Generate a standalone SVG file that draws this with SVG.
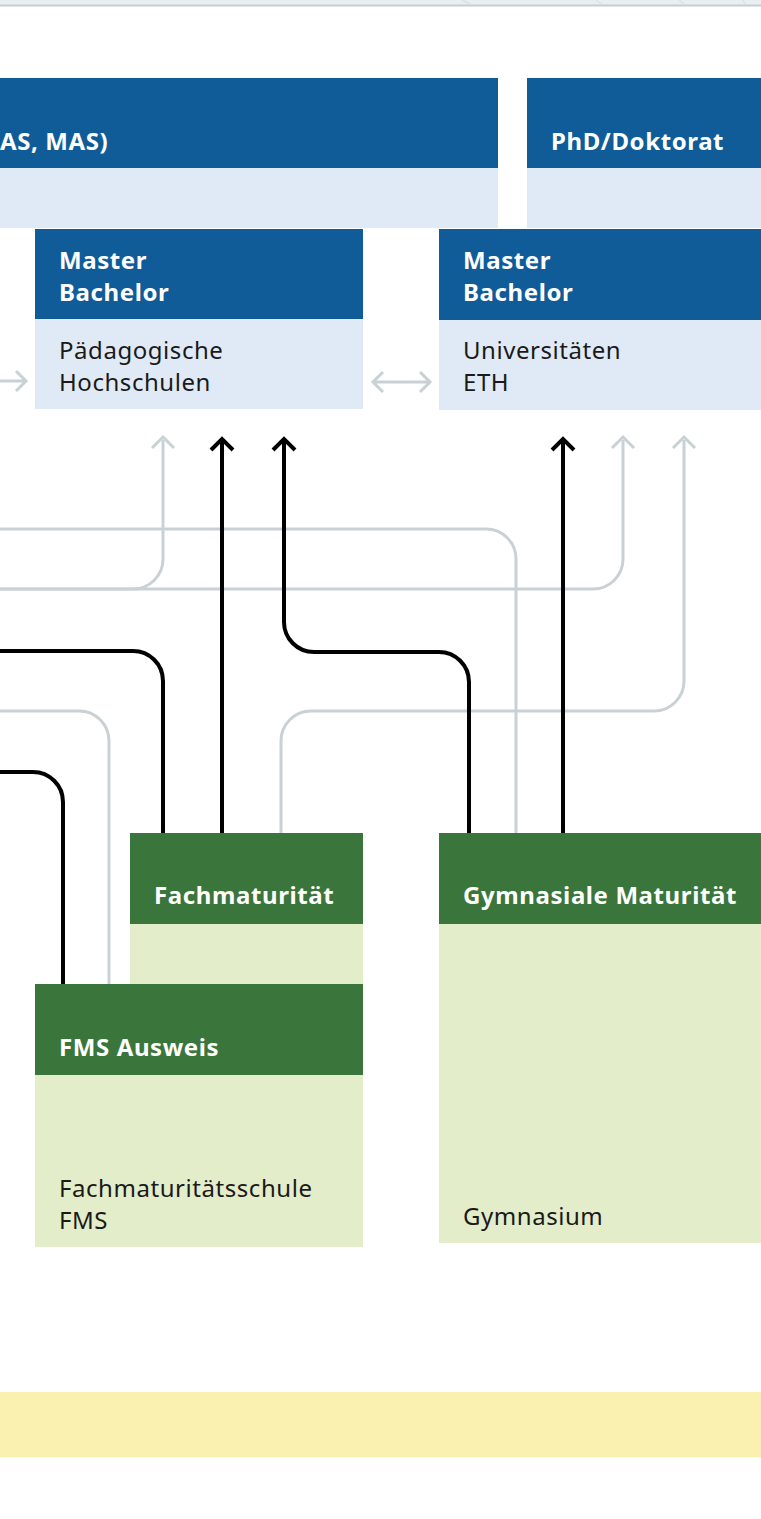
<svg xmlns="http://www.w3.org/2000/svg" width="761" height="1519" viewBox="0 0 761 1519">
<style>
.dk{fill:#0f5c99}.lt{fill:#e0eaf6}.gd{fill:#3a753c}.gl{fill:#e3edc9}
.h{font-family:"Noto Sans","DejaVu Sans",sans-serif;font-weight:bold;font-size:24px;letter-spacing:0.6px;fill:#ffffff}
.b{font-family:"Noto Sans","DejaVu Sans",sans-serif;font-size:24px;letter-spacing:0.55px;fill:#1a1a1a}
.g{fill:none;stroke:#c9d1d5;stroke-width:3}
.k{fill:none;stroke:#000000;stroke-width:4}
</style>
<rect width="761" height="1519" fill="#ffffff"/>
<g id="top-band">
<rect x="0" y="0" width="761" height="5" fill="#e9eef1"/>
<rect x="0" y="4.5" width="761" height="2" fill="#c6ced3"/>
<g stroke="#d3e6e6" stroke-width="1.5">
<line x1="462" y1="0" x2="470" y2="4"/><line x1="596" y1="0" x2="602" y2="4"/><line x1="679" y1="0" x2="684" y2="4"/><line x1="743" y1="0" x2="745" y2="4"/>
</g>
</g>
<g id="weiterbildung">
<rect class="dk" x="0" y="78" width="498" height="90"/>
<rect class="lt" x="0" y="168" width="498" height="60"/>
<text class="h" x="0" y="150" letter-spacing="1.6">AS, MAS)</text>
</g>
<g id="phd">
<rect class="dk" x="527" y="78" width="234" height="90"/>
<rect class="lt" x="527" y="168" width="234" height="60"/>
<text class="h" x="551" y="150">PhD/Doktorat</text>
</g>
<g id="ph">
<rect class="dk" x="35" y="229" width="328" height="90"/>
<rect class="lt" x="35" y="319" width="328" height="90"/>
<text class="h" x="59" y="269">Master</text>
<text class="h" x="59" y="301">Bachelor</text>
<text class="b" x="59" y="359">Pädagogische</text>
<text class="b" x="59" y="391">Hochschulen</text>
</g>
<g id="uni">
<rect class="dk" x="439" y="229" width="322" height="91"/>
<rect class="lt" x="439" y="320" width="322" height="90"/>
<text class="h" x="463" y="269">Master</text>
<text class="h" x="463" y="301">Bachelor</text>
<text class="b" x="463" y="359">Universitäten</text>
<text class="b" x="463" y="391">ETH</text>
</g>
<g id="fachmaturitaet">
<rect class="gd" x="130" y="833" width="233" height="91"/>
<rect class="gl" x="130" y="924" width="233" height="60"/>
<text class="h" x="154" y="904">Fachmaturität</text>
</g>
<g id="fms">
<rect class="gd" x="35" y="984" width="328" height="91"/>
<rect class="gl" x="35" y="1075" width="328" height="172"/>
<text class="h" x="59" y="1056">FMS Ausweis</text>
<text class="b" x="59" y="1197">Fachmaturitätsschule</text>
<text class="b" x="59" y="1229">FMS</text>
</g>
<g id="gymnasium">
<rect class="gd" x="439" y="833" width="322" height="91"/>
<rect class="gl" x="439" y="924" width="322" height="319"/>
<text class="h" x="463" y="904">Gymnasiale Maturität</text>
<text class="b" x="463" y="1225">Gymnasium</text>
</g>
<g id="yellow-band">
<rect x="0" y="1392" width="761" height="65" fill="#faf0b0"/>
</g>
<g id="connectors">
<path class="g" d="M516,833 V559 A30,30 0 0 0 486,529 H0"/>
<path class="g" d="M163,440 V559 A30,30 0 0 1 133,589 H0"/>
<path class="g" d="M623,440 V559 A30,30 0 0 1 593,589 H0"/>
<path class="g" d="M684,440 V681 A30,30 0 0 1 654,711 H311 A30,30 0 0 0 281,741 V833"/>
<path class="g" d="M0,711 H79 A30,30 0 0 1 109,741 V984"/>
<path class="g" d="M152,448 L163,437 L174,448"/>
<path class="g" d="M612,448 L623,437 L634,448"/>
<path class="g" d="M673,448 L684,437 L695,448"/>
<path class="g" d="M0,381 H26 M16,371 L26,381 L16,391"/>
<path class="g" d="M373,382 H430 M383,372 L373,382 L383,392 M420,372 L430,382 L420,392"/>
<path class="k" d="M0,651 H133 A30,30 0 0 1 163,681 V833"/>
<path class="k" d="M222,440 V833"/>
<path class="k" d="M284,440 V622 A30,30 0 0 0 314,652 H439 A30,30 0 0 1 469,682 V833"/>
<path class="k" d="M563,440 V833"/>
<path class="k" d="M0,772 H33 A30,30 0 0 1 63,802 V984"/>
<path class="k" d="M211,450 L222,439 L233,450"/>
<path class="k" d="M273,450 L284,439 L295,450"/>
<path class="k" d="M552,450 L563,439 L574,450"/>
</g>
</svg>
